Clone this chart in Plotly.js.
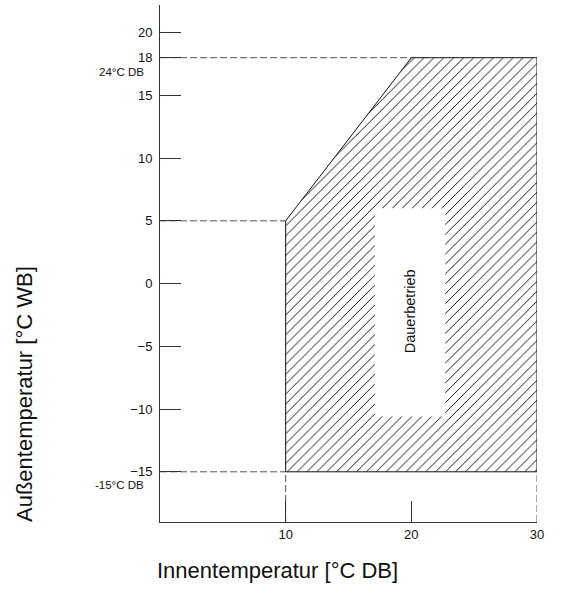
<!DOCTYPE html>
<html>
<head>
<meta charset="utf-8">
<script src="https://cdn.plot.ly/plotly-3.0.1.min.js"></script>
<style>html,body{margin:0;padding:0;background:#fff;}#chart{width:566px;height:589px;}</style>
</head>
<body>
<div id="chart"></div>
<script>
// Operating range polygon (indoor °C DB, outdoor °C WB)
const regionX = [10, 10, 20, 30, 30, 10];
const regionY = [-15, 5, 18, 18, -15, -15];
// Label box inside the range
const boxX = [17.1, 22.7, 22.7, 17.1, 17.1];
const boxY = [-10.6, -10.6, 6.0, 6.0, -10.6];
const labelX = 19.9;
const labelY = -2.2;
const labelText = "Dauerbetrieb";
// Reference (dashed) lines
const refHorizX = [[0, 20], [0, 10], [0, 10]];
const refHorizY = [[18, 18], [5, 5], [-15, -15]];
const refVertX = [[10, 10], [30, 30]];
const refVertY = [[-19, -15], [-19, -15]];
// Ticks
const xTickVals = [10, 20, 30];
const xTickText = ["10", "20", "30"];
const yTickVals = [-15, -10, -5, 0, 5, 10, 15, 18, 20];
const yTickText = ["\u221215", "\u221210", "\u22125", "0", "5", "10", "15", "18", "20"];
const noteTop = "24°C DB";
const noteBottom = "-15°C DB";
const xTitle = "Innentemperatur [°C DB]";
const yTitle = "Außentemperatur [°C WB]";

const font = "Liberation Sans, Arial, sans-serif";
const dashStyle = {color: "#555", width: 1, dash: "7px,3px"};

const traces = [];
refHorizX.forEach((xs, i) => traces.push({x: xs, y: refHorizY[i], mode: "lines", line: dashStyle, hoverinfo: "skip", showlegend: false}));
refVertX.forEach((xs, i) => traces.push({x: xs, y: refVertY[i], mode: "lines", line: dashStyle, hoverinfo: "skip", showlegend: false}));
traces.push({
  x: regionX, y: regionY, mode: "lines", fill: "toself", fillcolor: "white",
  fillpattern: {shape: "/", size: 7, solidity: 0.13, fgcolor: "#000", bgcolor: "white"},
  line: {color: "#111", width: 1}, showlegend: false, hoverinfo: "skip"
});
traces.push({
  x: boxX, y: boxY, mode: "lines", fill: "toself", fillcolor: "white",
  line: {color: "white", width: 0}, showlegend: false, hoverinfo: "skip"
});

const layout = {
  width: 566, height: 589,
  margin: {l: 160, r: 29, t: 5, b: 67},
  paper_bgcolor: "white", plot_bgcolor: "white",
  font: {family: font, color: "#111", size: 12},
  showlegend: false,
  xaxis: {
    range: [0, 30], showgrid: false, zeroline: false,
    showline: true, linecolor: "#333", linewidth: 1,
    ticks: "inside", ticklen: 21, tickcolor: "#333", tickwidth: 1,
    tickvals: xTickVals, ticktext: xTickText,
    tickfont: {family: font, size: 13, color: "#111"}
  },
  yaxis: {
    range: [-19, 22.2], showgrid: false, zeroline: false,
    showline: true, linecolor: "#333", linewidth: 1,
    ticks: "inside", ticklen: 21, tickcolor: "#333", tickwidth: 1,
    tickvals: yTickVals, ticktext: yTickText,
    tickfont: {family: font, size: 13, color: "#111"},
    ticklabelstandoff: 4
  },
  annotations: [
    {x: labelX, y: labelY, xref: "x", yref: "y", text: labelText, textangle: -90, showarrow: false,
     font: {family: font, size: 14.5, color: "#111"}},
    {x: 0, y: 18, xref: "paper", yref: "y", text: noteTop, showarrow: false, xanchor: "right", yanchor: "middle",
     xshift: -14, yshift: -14, font: {family: font, size: 11.5, color: "#111"}},
    {x: 0, y: -15, xref: "paper", yref: "y", text: noteBottom, showarrow: false, xanchor: "right", yanchor: "middle",
     xshift: -14, yshift: -13, font: {family: font, size: 11.5, color: "#111"}},
    {x: (277 - 160) / 377, y: -(570 - 522) / 517, xref: "paper", yref: "paper", text: xTitle, showarrow: false,
     xanchor: "center", yanchor: "middle", font: {family: font, size: 22, color: "#111"}},
    {x: -(160 - 24) / 377, y: (522 - 394) / 517, xref: "paper", yref: "paper", text: yTitle, showarrow: false,
     textangle: -90, xanchor: "center", yanchor: "middle", font: {family: font, size: 22, color: "#111"}}
  ]
};

Plotly.newPlot("chart", traces, layout, {displayModeBar: false, staticPlot: true});
</script>
</body>
</html>
